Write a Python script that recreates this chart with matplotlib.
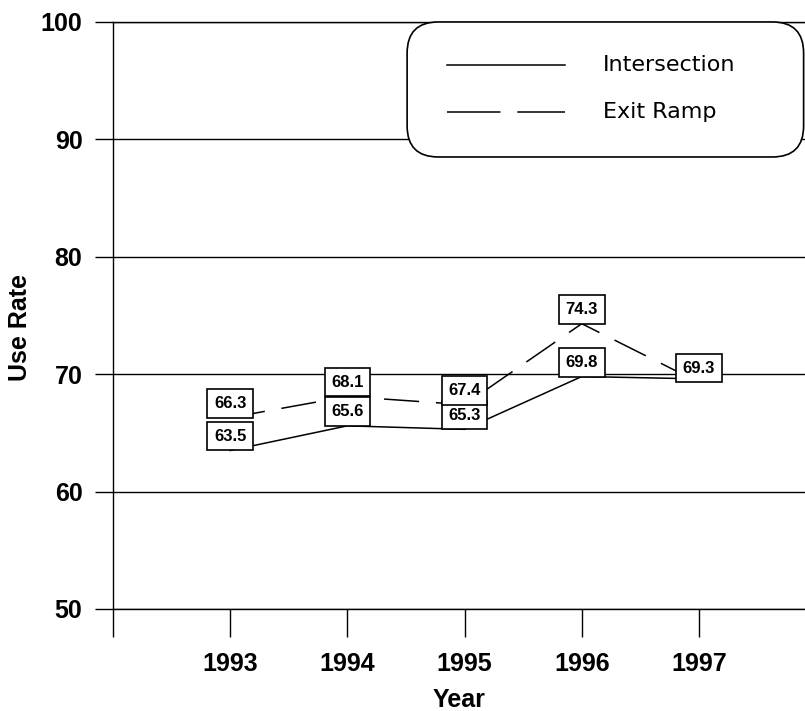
import numpy as np
import matplotlib
matplotlib.use("Agg")
from matplotlib import pyplot as plt
from matplotlib.patches import FancyBboxPatch

years = [1993, 1994, 1995, 1996, 1997]
intersection = [63.5, 65.6, 65.3, 69.8, 69.6]
exit_ramp = [66.3, 68.1, 67.4, 74.3, 69.3]
# labels as printed on the chart (no visible label for intersection 1997)
int_labels = ["63.5", "65.6", "65.3", "69.8", None]
exit_labels = ["66.3", "68.1", "67.4", "74.3", "69.3"]

FONT = "Liberation Sans"

fig = plt.figure(figsize=(8.05, 7.11), dpi=100)
ax = fig.add_axes([0.1404, 0.1435, 0.8596, 0.8256])

ax.plot(years, intersection, color="black", lw=1.1, zorder=3)
ex, = ax.plot(years, exit_ramp, color="black", lw=1.1, zorder=3)
ex.set_dashes((23, 11))

def label(x, y, txt, z):
    if txt is None: return
    ax.annotate(txt, (x, y), xytext=(0, 4.8), textcoords="offset points",
                ha="center", va="bottom", fontsize=12, fontweight="bold", family=FONT,
                bbox=dict(boxstyle="square,pad=0.4", fc="white", ec="black", lw=1.2),
                zorder=z)

for x, y, t in zip(years, intersection, int_labels):
    label(x, y, t, 4)
for x, y, t in zip(years, exit_ramp, exit_labels):
    label(x, y, t, 5)

ax.set_xlim(1992, 1997.905)
ax.set_ylim(50, 100)
ax.set_yticks([50, 60, 70, 80, 90, 100])
ax.set_xticks([1992] + years)
ax.set_xticklabels([""] + [str(y) for y in years])
ax.yaxis.grid(True, color="black", lw=1)
ax.set_axisbelow(True)
ax.spines["right"].set_visible(False)
for s in ax.spines.values():
    s.set_linewidth(1)
ax.tick_params(axis="y", length=13, width=1, pad=9, labelsize=18)
ax.tick_params(axis="x", length=20, width=1, pad=11, labelsize=18)
for t in ax.get_xticklabels() + ax.get_yticklabels():
    t.set_fontweight("bold")
    t.set_family(FONT)

ax.set_ylabel("Use Rate", fontsize=18, fontweight="bold", family=FONT)
ax.yaxis.set_label_coords(-0.117, 0.48)
ax.set_xlabel("Year", fontsize=18, fontweight="bold", family=FONT)
ax.xaxis.set_label_coords(0.5, -0.135)

# legend box, cut off at the right like the original
aspect = (0.8256 * 711) / (0.8596 * 805)
box = FancyBboxPatch((0.425, 0.770), 0.573, 0.230, transform=ax.transAxes,
                     boxstyle="round,pad=0,rounding_size=0.045", mutation_aspect=1 / aspect,
                     fc="white", ec="black", lw=1.2, zorder=6, clip_on=False)
ax.add_patch(box)
ax.plot([0.483, 0.653], [0.927, 0.927], transform=ax.transAxes, color="black",
        lw=1.1, zorder=7, clip_on=False)
lg, = ax.plot([0.483, 0.653], [0.847, 0.847], transform=ax.transAxes, color="black",
              lw=1.1, zorder=7, clip_on=False)
lg.set_dashes((35, 11))
ax.text(0.708, 0.927, "Intersection", transform=ax.transAxes, fontsize=16,
        family="DejaVu Sans", va="center", zorder=7)
ax.text(0.708, 0.847, "Exit Ramp", transform=ax.transAxes, fontsize=16,
        family="DejaVu Sans", va="center", zorder=7)

fig.savefig("out.png", dpi=100)
